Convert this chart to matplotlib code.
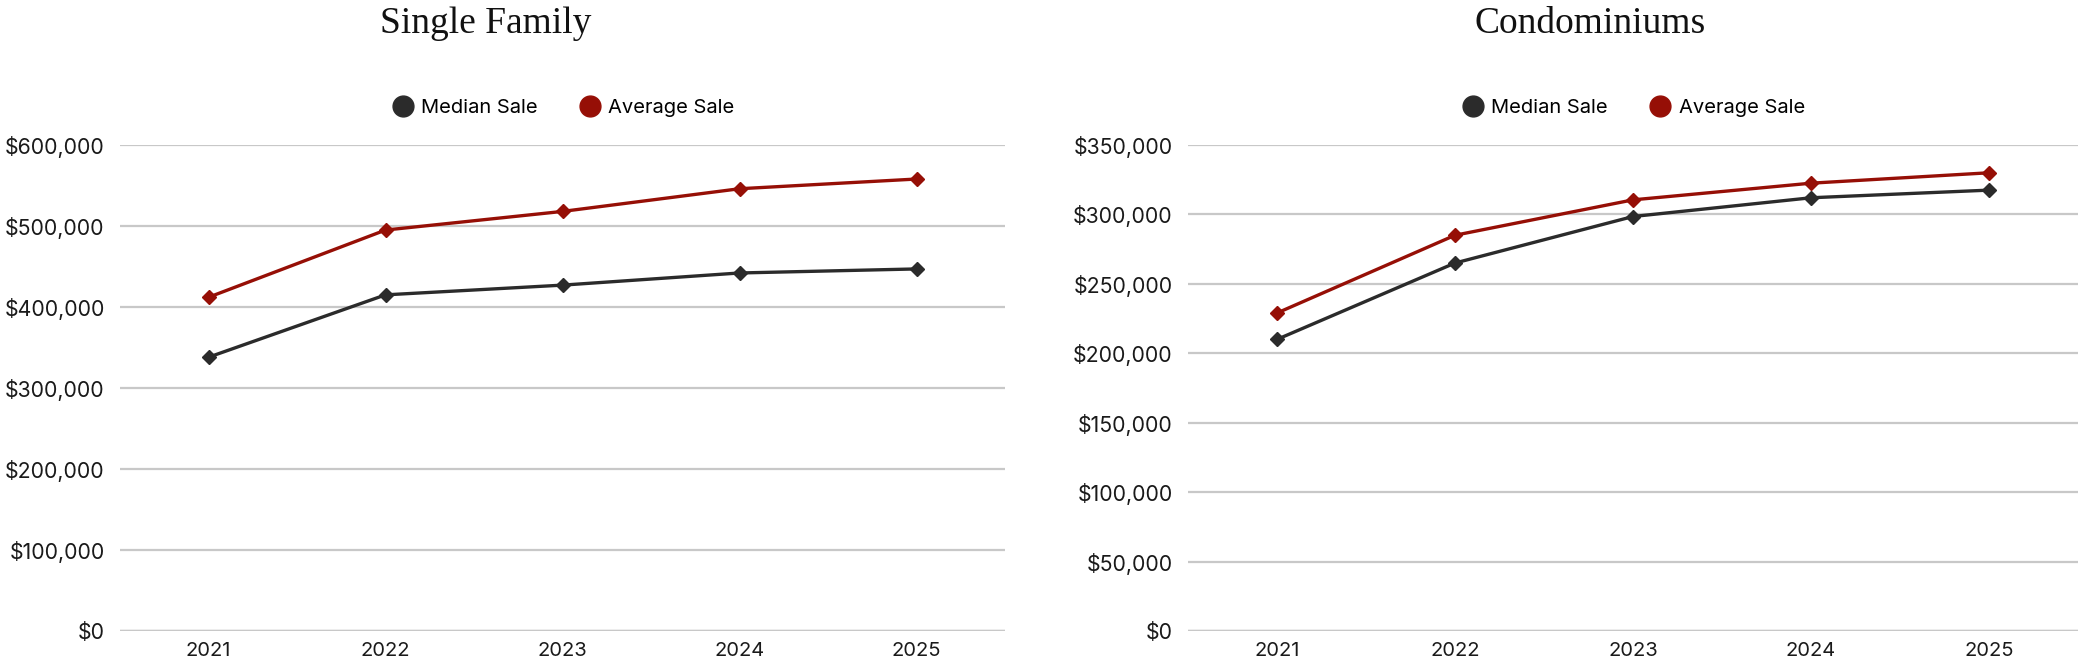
# Single family vs condo sale prices, 2021-2025
import matplotlib
matplotlib.use("Agg")
import matplotlib.pyplot as plt
from matplotlib.lines import Line2D
from matplotlib.ticker import FuncFormatter

years = ["2021", "2022", "2023", "2024", "2025"]

# Single family
sf_median = [338000, 415000, 427000, 442000, 447000]
sf_average = [412000, 495000, 518000, 546000, 558000]

# Condominiums
condo_median = [210000, 265000, 298500, 312000, 317500]
condo_average = [229000, 285000, 310500, 322500, 330000]

series_names = ["Median Sale", "Average Sale"]

dark = "#2b2b2b"
red = "#960f06"
sans = ["Inter", "DejaVu Sans"]
serif = ["Liberation Serif", "DejaVu Serif"]

plt.rcParams["font.family"] = sans

def money(v, pos):
    return "${:,.0f}".format(v)

def panel(ax, median, average, ymax, ystep):
    x = range(len(years))
    ax.plot(x, median, color=dark, lw=2.4, marker="D", ms=7.5, zorder=3)
    ax.plot(x, average, color=red, lw=2.4, marker="D", ms=7.5, zorder=3)
    ax.set_xlim(-0.5, len(years) - 0.5)
    ax.set_ylim(0, ymax)
    ax.set_xticks(list(x))
    ax.set_xticklabels(years, fontsize=14.5)
    ax.set_yticks(range(0, ymax + 1, ystep))
    ax.yaxis.set_major_formatter(FuncFormatter(money))
    ax.grid(axis="y", color="#c8c8c8", lw=1.6, zorder=0)
    ax.axhline(0, color="#8f8f8f", lw=1.6, zorder=1)
    for s in ax.spines.values():
        s.set_visible(False)
    ax.tick_params(axis="both", length=0, colors="#1a1a1a")
    ax.tick_params(axis="y", pad=11, labelsize=15.3)
    ax.tick_params(axis="x", pad=8)
    handles = [Line2D([], [], ls="none", marker="o", ms=15, color=dark),
               Line2D([], [], ls="none", marker="o", ms=15, color=red)]
    ax.legend(handles, series_names, loc="lower center", bbox_to_anchor=(0.5, 1.02),
              ncol=2, frameon=False, fontsize=14.5, handletextpad=0.3,
              columnspacing=2.0, handlelength=1.2)

fig = plt.figure(figsize=(20.78, 6.65), dpi=100)
ax1 = fig.add_axes([120 / 2078, 1 - 631 / 665, 885 / 2078, 486 / 665])
ax2 = fig.add_axes([1188 / 2078, 1 - 631 / 665, 890 / 2078, 486 / 665])

panel(ax1, sf_median, sf_average, 600000, 100000)
panel(ax2, condo_median, condo_average, 350000, 50000)

fig.text(486 / 2078, 1 - 33 / 665, "Single Family", ha="center", va="baseline",
         fontsize=27, family=serif, color="#111111")
fig.text(1590 / 2078, 1 - 33 / 665, "Condominiums", ha="center", va="baseline",
         fontsize=27, family=serif, color="#111111")

fig.savefig("out.png", dpi=100, facecolor="white")
